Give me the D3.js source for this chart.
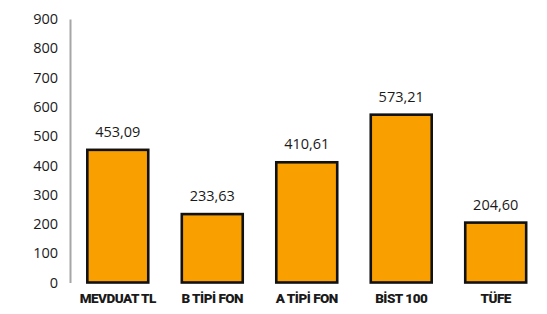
<!DOCTYPE html>
<meta charset="utf-8">
<html lang="tr">
<head>
<script src="https://d3js.org/d3.v7.min.js"></script>
<style>
  body { margin: 0; background: #fff; }
  svg text { font-family: "Open Sans", "DejaVu Sans", sans-serif; fill: #1a1a1a; }
</style>
</head>
<body>
<div id="chart"></div>
<script>
// data
const categories = ["MEVDUAT TL", "B TİPİ FON", "A TİPİ FON", "BİST 100", "TÜFE"];
const values = [453.09, 233.63, 410.61, 573.21, 204.60];
const yTicks = [0, 100, 200, 300, 400, 500, 600, 700, 800, 900];

const W = 547, H = 314;
const svg = d3.select("#chart").append("svg")
    .attr("width", W).attr("height", H);

const x = d3.scaleBand()
  .domain(categories)
  .range([70.5, 543])
  .paddingInner(0.355)
  .paddingOuter(0.178);

const y = d3.scaleLinear()
  .domain([0, 900])
  .range([282.5, 19]);

// y axis
const yAxis = svg.append("g")
  .attr("transform", "translate(70,0)")
  .call(d3.axisLeft(y).tickValues(yTicks).tickSize(0).tickPadding(12));
yAxis.select(".domain").attr("stroke", "#a6a6a6").attr("stroke-width", 2);
yAxis.selectAll("text")
  .style("font-size", "14.5px")
  .attr("fill", "#1a1a1a");

// bars
svg.selectAll("rect.bar")
  .data(values)
  .join("rect")
  .attr("class", "bar")
  .attr("x", (d, i) => x(categories[i]))
  .attr("y", d => y(d))
  .attr("width", x.bandwidth())
  .attr("height", d => y(0) - y(d))
  .attr("fill", "#F99F00")
  .attr("stroke", "#111")
  .attr("stroke-width", 2.6);

// value labels
svg.selectAll("text.val")
  .data(values)
  .join("text")
  .attr("class", "val")
  .attr("x", (d, i) => x(categories[i]) + x.bandwidth() / 2)
  .attr("y", d => y(d) - 13)
  .attr("text-anchor", "middle")
  .style("font-size", "14.5px")
  .text(d => d.toFixed(2).replace(".", ","));

// category labels
svg.selectAll("text.cat")
  .data(categories)
  .join("text")
  .attr("class", "cat")
  .attr("x", d => x(d) + x.bandwidth() / 2)
  .attr("y", 303)
  .attr("text-anchor", "middle")
  .style("font-size", "13.5px")
  .style("font-weight", "900")
  .style("letter-spacing", "-0.5px")
  .style("font-family", "Roboto, sans-serif")
  .text(d => d);
</script>
</body>
</html>
